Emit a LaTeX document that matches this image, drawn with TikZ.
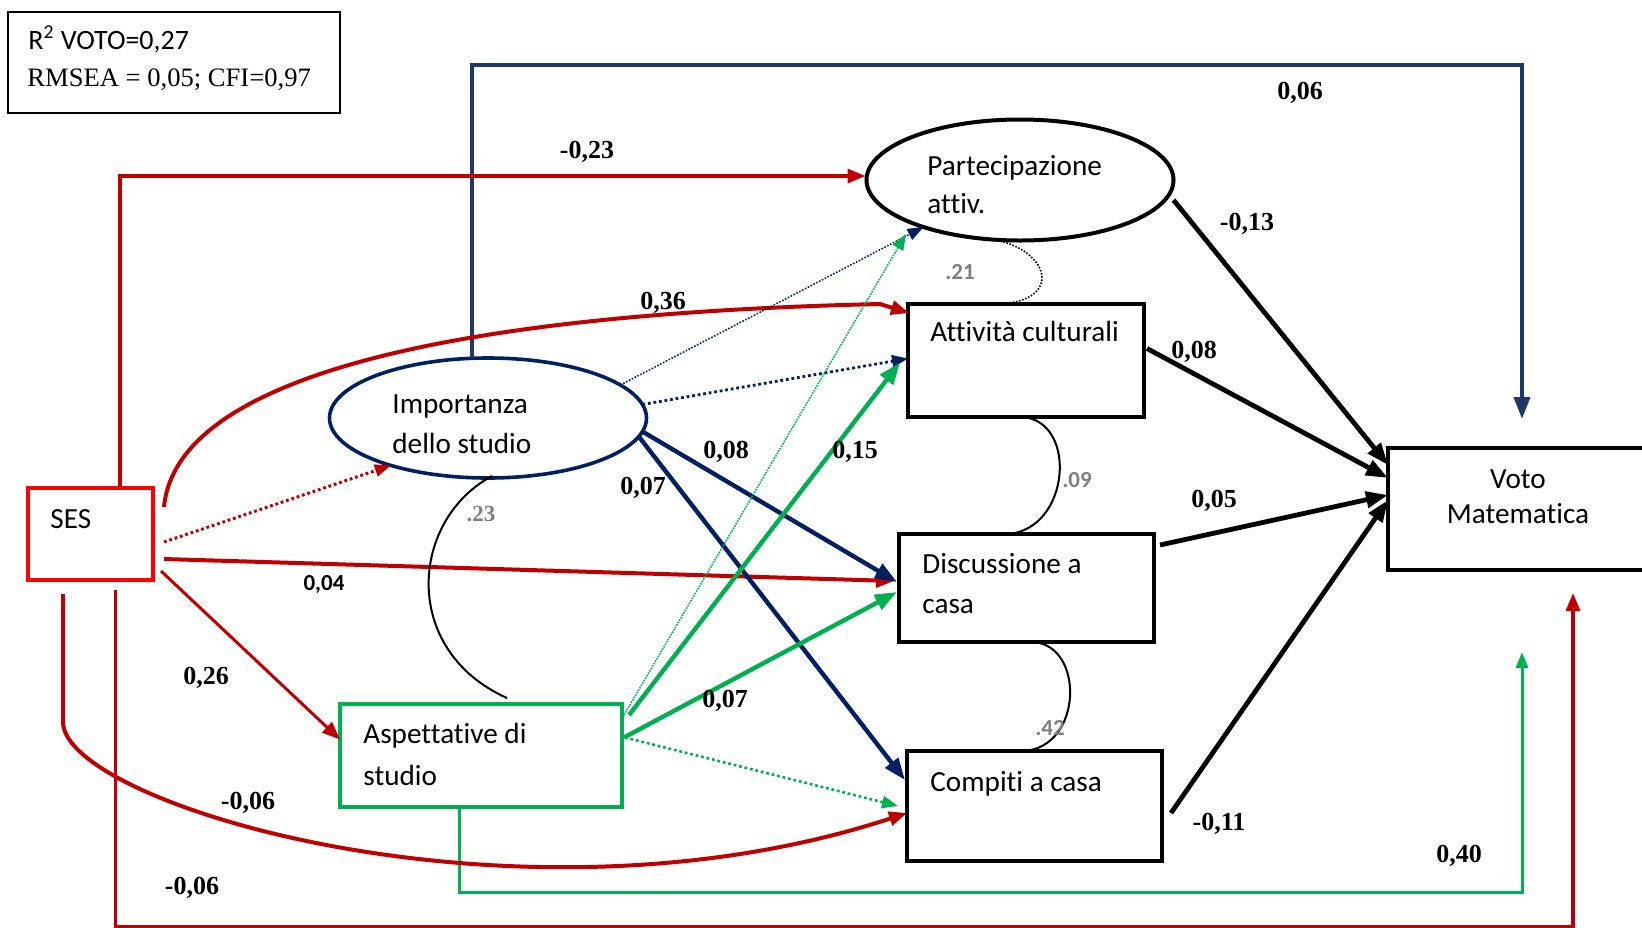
\documentclass[tikz,border=0pt]{standalone}
\usepackage{fontspec}
\setmainfont{Liberation Serif}
\newfontfamily\calibri[Ligatures=NoCommon]{Carlito}
\usetikzlibrary{arrows.meta,calc,shapes.geometric}

\definecolor{sesred}{RGB}{255,0,0}
\definecolor{pathred}{RGB}{192,0,0}
\definecolor{navy}{RGB}{0,32,96}
\definecolor{routeblue}{RGB}{31,56,100}
\definecolor{okgreen}{RGB}{0,176,80}
\definecolor{corrgray}{RGB}{127,127,127}

\begin{document}
\begin{tikzpicture}[x=0.5pt,y=-0.5pt,
  box/.style={draw, rectangle, inner sep=0pt, outer sep=0pt, line width=1.7pt},
  oval/.style={draw, ellipse, inner sep=0pt, outer sep=0pt, line width=1.8pt},
  vartext/.style={font=\calibri\fontsize{14.6}{20}\selectfont, inner sep=0pt, anchor=base west, align=left},
  coef/.style={font=\fontsize{13}{15}\selectfont\bfseries, inner sep=0pt},
  coefsans/.style={font=\calibri\fontsize{11.5}{14}\selectfont\bfseries, inner sep=0pt},
  corr/.style={font=\calibri\fontsize{11.5}{13}\selectfont\bfseries, text=corrgray, inner sep=0pt},
  corrserif/.style={font=\fontsize{11.5}{13}\selectfont\bfseries, text=corrgray, inner sep=0pt},
  bigtip/.style={-{Triangle[length=11pt,width=8pt]}},
  midtip/.style={-{Triangle[length=9pt,width=7pt]}},
  smalltip/.style={-{Triangle[length=8pt,width=6pt]}},
  thickblack/.style={black, line width=2.4pt, bigtip},
  thicknavy/.style={navy, line width=2.2pt, bigtip},
  thickgreen/.style={okgreen, line width=2.2pt, bigtip},
  finedots/.style={line width=0.8pt, dash pattern=on 0.8pt off 0.8pt},
  coarsedots/.style={line width=1.4pt, dash pattern=on 1.4pt off 1.4pt},
  corrarc/.style={black, line width=1pt},
]
\useasboundingbox (0,0) rectangle (1642,927);

% fit indices
\node[box, line width=1pt, minimum width=166pt, minimum height=50.5pt] (fitbox) at (174,62.5) {};
\node[vartext, font=\calibri\fontsize{14}{20}\selectfont] (r2) at (28,49) {R\textsuperscript{2} VOTO=0,27};
\node[vartext, font=\fontsize{13.3}{17}\selectfont] (fitidx) at (27,86) {RMSEA = 0,05; CFI=0,97};

% variables
\node[box, draw=sesred, minimum width=62.5pt, minimum height=46pt] (ses) at (90.5,534) {};
\node[oval, draw=navy, minimum width=158.5pt, minimum height=60pt] (imp) at (488,418) {};
\node[oval, line width=2pt, minimum width=153.5pt, minimum height=60.5pt] (part) at (1020,180) {};
\node[box, minimum width=118pt, minimum height=56.5pt] (att) at (1026,360.5) {};
\node[box, minimum width=127.5pt, minimum height=54pt] (disc) at (1026.5,588) {};
\node[box, minimum width=127.5pt, minimum height=55pt] (comp) at (1034.5,806) {};
\node[box, line width=2pt, minimum width=136pt, minimum height=61pt] (voto) at (1524,509) {};
\node[box, draw=okgreen, minimum width=141pt, minimum height=51.5pt] (asp) at (481,755.5) {};

% variable names (anchored at the baseline of the last line)
\node[vartext] (sesT) at (50,528) {SES};
\node[vartext] (impT) at (392,453) {Importanza\\dello studio};
\node[vartext, font=\calibri\fontsize{14.6}{19}\selectfont] (partT) at (927,213) {Partecipazione\\attiv.};
\node[vartext] (attT) at (930,341) {Attività culturali};
\node[vartext] (discT) at (922,613) {Discussione a\\casa};
\node[vartext] (compT) at (930,791) {Compiti a casa};
\node[vartext, font=\calibri\fontsize{14.6}{17.5}\selectfont, align=center, anchor=base] (votoT) at (1518,523) {Voto\\Matematica};
\node[vartext, font=\calibri\fontsize{14.6}{21}\selectfont] (aspT) at (363,785) {Aspettative di\\studio};

% routes around the picture
\draw[routeblue, line width=2pt, bigtip] ($(imp.north)+(-16,0)$) |- ($(voto.north west)+(134,-383)$) -- ($(voto.north west)+(134,-29)$);
\draw[pathred, line width=1.6pt, midtip] ($(ses.north west)+(92,0)$) |- ($(part.west)+(-1,-4)$);
\draw[pathred, line width=1.6pt, midtip] ($(ses.south)+(25,10)$) |- ($(voto.south west)+(185,357)$) -- ($(voto.south west)+(185,23)$);
\draw[okgreen, line width=1.5pt, smalltip] ($(asp.south)+(-22,0)$) |- ($(voto.south west)+(134,322)$) -- ($(voto.south west)+(134,82)$);

% paths from SES
\draw[pathred, line width=2pt, midtip] ($(ses.north east)+(11,19)$) .. controls +(11,-117) and +(-480,11) .. ($(att.north west)+(-28,0)$) -- ($(att.north west)+(1,9)$);
\draw[pathred, line width=2pt, midtip] ($(ses.south west)+(35,14)$) -- ++(0,128) .. controls +(0,82) and +(-390,128) .. ($(comp.west)+(0,7)$);
\draw[pathred, coarsedots, line width=1.5pt, smalltip] ($(ses.east)+(11,8)$) -- (imp.206);
\draw[pathred, line width=2pt, midtip] ($(ses.east)+(11,25)$) -- ($(disc.west)+(-5,-7)$);
\draw[pathred, line width=1.5pt, midtip] ($(ses.east)+(8,37)$) -- ($(asp.west)+(0,-16)$);

% paths from Importanza dello studio
\draw[navy, finedots, smalltip] (imp.14) -- (part.206);
\draw[navy, coarsedots, smalltip] (imp.5) -- ($(att.west)+(0,-2)$);
\draw[thicknavy] (imp.-5) -- ($(disc.west)+(-2,-6)$);
\draw[thicknavy] (imp.-7) -- ($(comp.north west)+(-2,29)$);

% paths from Aspettative di studio
\draw[okgreen, finedots, dash pattern=on 0.8pt off 0.6pt, smalltip] ($(asp.north east)+(2,11)$) -- ($(part.center)+(-114,54)$);
\draw[thickgreen] ($(asp.north east)+(7,11)$) -- ($(att.west)+(-8,2)$);
\draw[thickgreen] ($(asp.east)+(2,-18)$) -- ($(disc.west)+(-2,4)$);
\draw[okgreen, coarsedots, line width=1.3pt, smalltip] ($(asp.east)+(3,-18)$) -- ($(comp.west)+(-9,0)$);

% paths to Voto Matematica
\draw[thickblack] ($(part.east)+(0,20)$) -- ($(voto.west)+(0,-44)$);
\draw[thickblack] ($(att.east)+(3,-12)$) -- ($(voto.west)+(0,-31)$);
\draw[thickblack] ($(disc.north east)+(6,11)$) -- ($(voto.west)+(0,-14)$);
\draw[thickblack] ($(comp.east)+(9,7)$) -- ($(voto.west)+(0,-9)$);

% residual correlations
\draw[corrarc, finedots] ($(part.south)+(-45,-3)$) .. controls +(73,2) and +(73,-2) .. ($(att.north west)+(89,0)$);
\draw[corrarc] ($(att.south)+(-3,0)$) .. controls +(55,5) and +(62,-5) .. ($(disc.north)+(-18.5,0)$);
\draw[corrarc] ($(disc.south)+(6.5,0)$) .. controls +(52,3) and +(60,-3) .. ($(comp.north)+(-11.5,0)$);
\draw[corrarc] ($(imp.south)+(4,-2)$) .. controls +(-82,44) and +(-107,-48) .. ($(asp.north)+(26,-6)$);

% coefficients
\node[coef] (k06) at (1300,93) {0,06};
\node[coef] (k23) at (587,152) {-0,23};
\node[coef] (k36) at (663,303) {0,36};
\node[coef] (k13) at (1247,224) {-0,13};
\node[coef] (k08a) at (1194,352) {0,08};
\node[coef] (k05) at (1214,501) {0,05};
\node[coef] (k11) at (1219,824) {-0,11};
\node[coef] (k08b) at (726,452) {0,08};
\node[coef] (k15) at (855,452) {0,15};
\node[coef] (k07a) at (643,488) {0,07};
\node[coef] (k07b) at (725,701) {0,07};
\node[coefsans] (k04) at (324,585) {0,04};
\node[coef] (k26) at (206,678) {0,26};
\node[coef] (k06b) at (248,803) {-0,06};
\node[coef] (k06c) at (192,888) {-0,06};
\node[coef] (k40) at (1459,856) {0,40};
\node[corr] (r21) at (960,272) {.21};
\node[corr] (r09) at (1077,480) {.09};
\node[corr] (r42) at (1050,728) {.42};
\node[corrserif] (r23) at (481,514) {.23};
\end{tikzpicture}
\end{document}
